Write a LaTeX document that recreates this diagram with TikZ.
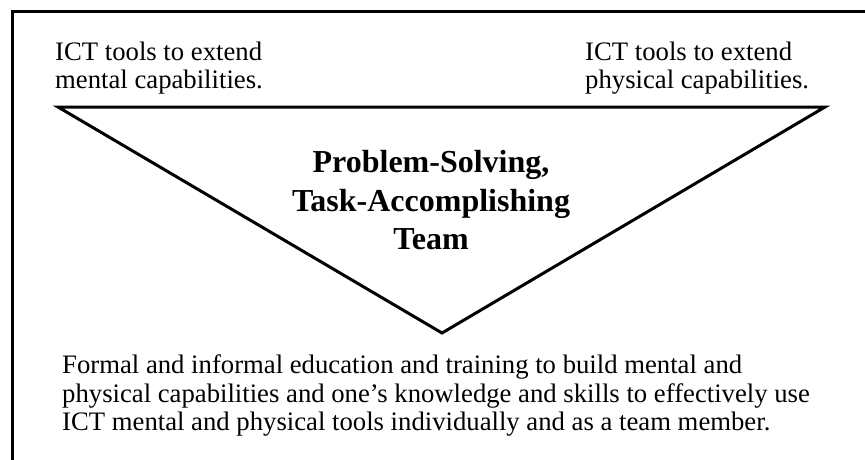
\documentclass[tikz,border=0pt]{standalone}
\usepackage{fontspec}
\setmainfont{Liberation Serif}
\usetikzlibrary{shapes,arrows}

\begin{document}
\begin{tikzpicture}[x=1pt,y=-1pt,
  lbl/.style={inner sep=0pt,align=left,anchor=north west,font=\fontsize{26.7}{28.5}\selectfont},
  team/.style={inner sep=0pt,align=center,anchor=north,font=\fontsize{32}{38.5}\selectfont\bfseries}]
  \useasboundingbox (0,0) rectangle (865,460);
  \draw[line width=3pt] (12,460) -- (12,12) -- (865,12);
  \coordinate (tl) at (58,107);
  \coordinate (tr) at (825,107);
  \coordinate (bt) at (442,333);
  \draw[line width=3pt,line join=miter] (tl) -- (tr) -- (bt) -- cycle;
  \node[lbl] (mental) at (55,41.6) {ICT tools to extend\\mental capabilities.};
  \node[lbl] (physical) at (585,41.6) {ICT tools to extend\\physical capabilities.};
  \node[team] (team) at (431,150.5) {Problem-Solving,\\Task-Accomplishing\\Team};
  \node[lbl] (edu) at (62,354.6) {Formal and informal education and training to build mental and\\physical capabilities and one’s knowledge and skills to effectively use\\ICT mental and physical tools individually and as a team member.};
\end{tikzpicture}
\end{document}
